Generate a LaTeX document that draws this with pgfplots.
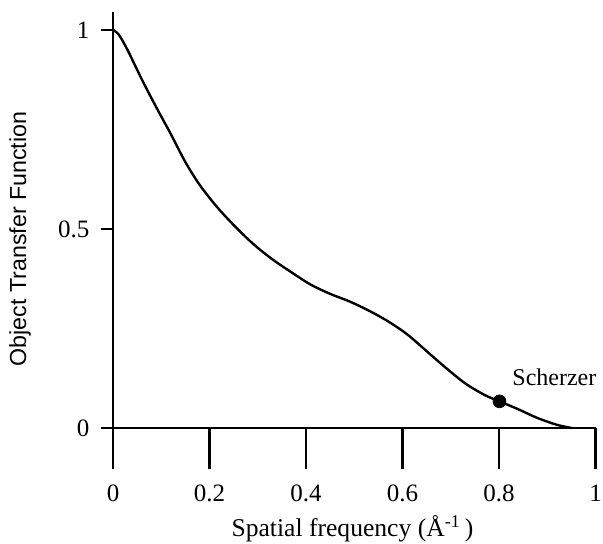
\documentclass[border=0pt]{standalone}
\usepackage{fontspec}
\setmainfont{Liberation Serif}
\newfontfamily\arialfont{Liberation Sans}
\usepackage{pgfplots}
\pgfplotsset{compat=1.18}
\begin{document}
\begin{tikzpicture}
\useasboundingbox (-56.5pt,-58pt) rectangle (245pt,214pt);
\begin{axis}[
  scale only axis, width=241.25pt, height=208pt,
  xmin=0, xmax=1, ymin=0, ymax=1.045,
  axis x line=bottom, axis y line=left,
  axis line style={-, line width=1.4pt, black},
  clip=false,
  tick align=outside,
  xtick={0,0.2,0.4,0.6,0.8,1},
  xticklabels={0,0.2,0.4,0.6,0.8,1},
  ytick={0,0.5,1},
  yticklabels={0,0.5,1},
  /pgf/number format/assume math mode=true,
  major tick style={line width=1.4pt, black},
  xtick style={/pgfplots/major tick length=20.5pt},
  ytick style={/pgfplots/major tick length=6pt},
  xticklabel style={anchor=base, yshift=-32.5pt, font=\fontsize{12.5}{14}\selectfont},
  yticklabel style={anchor=east, inner sep=0pt, outer sep=0pt, xshift=-7.5pt, font=\fontsize{12.5}{14}\selectfont},
  xlabel={Spatial frequency (Å\textsuperscript{-1}\,)},
  xlabel style={at={(axis description cs:0.4964,0)}, anchor=base, yshift=-54.3pt, font=\fontsize{12.8}{15}\selectfont},
  ylabel={Object Transfer Function},
  ylabel style={at={(axis description cs:-0.1927,0.4543)}, anchor=center, rotate=0, font=\arialfont\fontsize{11.6}{13}\selectfont},
]
\addplot[smooth, line width=1.2pt, black] coordinates {
(0,1.000) (0.012,0.988) (0.030,0.950) (0.060,0.875) (0.090,0.805)
(0.120,0.738) (0.150,0.668) (0.180,0.610) (0.215,0.556) (0.250,0.510)
(0.290,0.463) (0.330,0.424) (0.370,0.391) (0.410,0.360) (0.450,0.337)
(0.490,0.318) (0.530,0.295) (0.570,0.268) (0.610,0.235) (0.650,0.193)
(0.690,0.151) (0.730,0.112) (0.770,0.083) (0.801,0.067) (0.840,0.047)
(0.880,0.025) (0.920,0.008) (0.951,0.000)
};
\addplot[only marks, mark=*, mark size=3.2pt, black] coordinates {(0.801,0.067)};
\node[anchor=base west, inner sep=0pt, font=\fontsize{12}{14}\selectfont] at (axis cs:0.827,0.108) {Scherzer};
\end{axis}
\end{tikzpicture}
\end{document}
